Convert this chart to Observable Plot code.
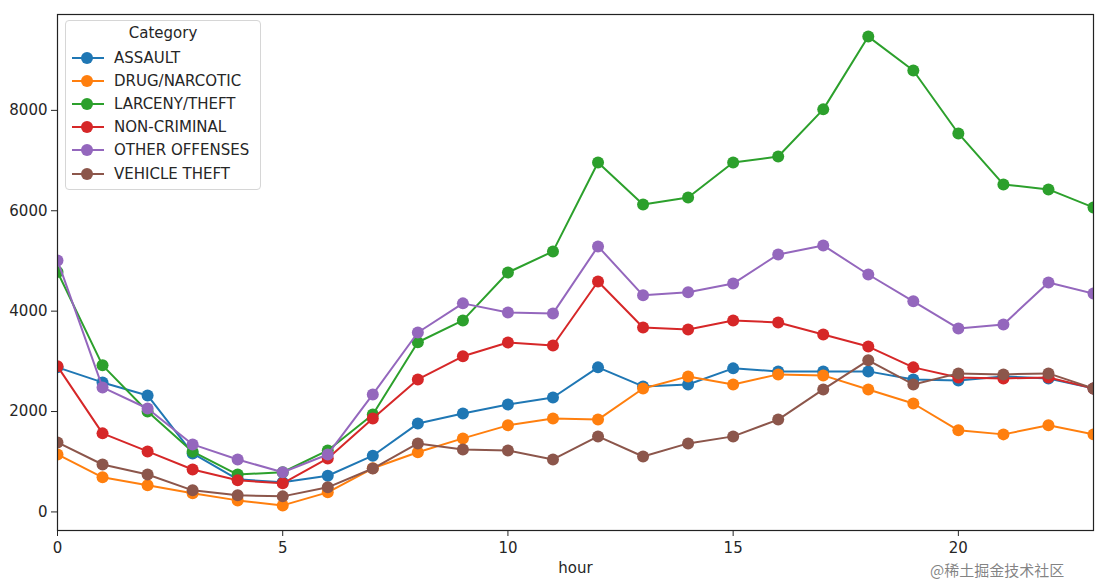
<!DOCTYPE html>
<html>
<head>
<meta charset="utf-8">
<script src="https://cdn.jsdelivr.net/npm/d3@7"></script>
<script src="https://cdn.jsdelivr.net/npm/@observablehq/plot@0.6"></script>
<style>
  html, body { margin: 0; padding: 0; background: #fff; }
  #wrap { position: relative; width: 1110px; height: 582px; font-family: "DejaVu Sans", sans-serif; }
  #legend { position: absolute; left: 65px; top: 20px; width: 194px; height: 168px;
    border: 1px solid #d6d6d6; border-radius: 4px; background: rgba(255,255,255,0.85);
    font-size: 15px; color: #262626; }
  #legend .title { text-align: center; margin-top: 3px; height: 22px; }
  #legend .row { height: 23.2px; display: flex; align-items: center; }
  #legend .row span { margin-left: 8px; }
  #wm { position: absolute; left: 930px; top: 561px; font-family: "Noto Sans CJK SC", sans-serif;
    font-size: 15px; line-height: 18px; color: rgba(90,90,90,0.75); }
</style>
</head>
<body>
<div id="wrap"></div>
<script>
const categories = ["ASSAULT", "DRUG/NARCOTIC", "LARCENY/THEFT", "NON-CRIMINAL", "OTHER OFFENSES", "VEHICLE THEFT"];
const colors = ["#1f77b4", "#ff7f0e", "#2ca02c", "#d62728", "#9467bd", "#8c564b"];
const hours = d3.range(0, 24);
const assault   = [2880, 2580, 2320, 1165, 650, 590, 720, 1120, 1760, 1960, 2140, 2280, 2880, 2500, 2540, 2860, 2800, 2800, 2800, 2640, 2620, 2700, 2660, 2460];
const drug      = [1145, 690, 530, 370, 230, 130, 390, 870, 1190, 1465, 1725, 1860, 1840, 2460, 2700, 2540, 2740, 2720, 2440, 2160, 1625, 1545, 1725, 1545];
const larceny   = [4780, 2920, 2000, 1200, 745, 790, 1225, 1940, 3380, 3815, 4770, 5190, 6960, 6125, 6265, 6960, 7080, 8020, 9470, 8795, 7540, 6525, 6425, 6065];
const noncrim   = [2900, 1565, 1205, 845, 630, 570, 1065, 1860, 2640, 3100, 3375, 3315, 4590, 3675, 3635, 3815, 3775, 3535, 3295, 2880, 2680, 2660, 2680, 2460];
const other     = [5010, 2480, 2060, 1345, 1045, 790, 1145, 2340, 3575, 4155, 3975, 3955, 5290, 4315, 4375, 4550, 5130, 5310, 4730, 4195, 3655, 3735, 4570, 4350];
const vehicle   = [1385, 945, 745, 430, 330, 310, 490, 865, 1365, 1245, 1225, 1045, 1505, 1105, 1365, 1505, 1840, 2440, 3020, 2540, 2760, 2740, 2760, 2460];
const xTicks = [0, 5, 10, 15, 20];
const yTicks = [0, 2000, 4000, 6000, 8000];

const series = [assault, drug, larceny, noncrim, other, vehicle];
const data = [];
series.forEach((vals, i) => vals.forEach((v, h) => data.push({cat: categories[i], hour: hours[h], value: v})));

const marks = [];
categories.forEach((c) => {
  const sub = data.filter(d => d.cat === c);
  marks.push(Plot.line(sub, {x: "hour", y: "value", stroke: "cat", strokeWidth: 2, clip: true}));
  marks.push(Plot.dot(sub, {x: "hour", y: "value", fill: "cat", r: 6, clip: true}));
});

const chart = Plot.plot({
  width: 1110, height: 582,
  marginLeft: 57, marginRight: 17, marginTop: 14, marginBottom: 52,
  style: {fontFamily: "DejaVu Sans, sans-serif", fontSize: "15px", color: "#262626", background: "white"},
  x: {domain: [0, 23]},
  y: {domain: [-370, 9910]},
  color: {domain: categories, range: colors},
  marks: [
    Plot.axisX({ticks: xTicks, tickSize: 6, tickPadding: 6, tickFormat: d => String(d), label: "hour", labelAnchor: "center", labelArrow: "none", labelOffset: 42, fontSize: 15}),
    Plot.axisY({ticks: yTicks, tickSize: 6, tickPadding: 4, tickFormat: d => String(d), label: null, fontSize: 15}),
    ...marks,
    Plot.frame({stroke: "#222", strokeWidth: 1.2})
  ]
});
document.getElementById("wrap").appendChild(chart);

// legend
const leg = document.createElement("div");
leg.id = "legend";
let html = '<div class="title">Category</div>';
categories.forEach((c, i) => {
  html += `<div class="row"><svg width="36" height="14" style="margin-left:4px"><line x1="2" x2="34" y1="7" y2="7" stroke="${colors[i]}" stroke-width="2"/><circle cx="17" cy="7" r="6" fill="${colors[i]}"/></svg><span>${c}</span></div>`;
});
leg.innerHTML = html;
document.getElementById("wrap").appendChild(leg);

const wm = document.createElement("div");
wm.id = "wm"; wm.textContent = "@稀土掘金技术社区";
document.getElementById("wrap").appendChild(wm);
</script>
</body>
</html>
